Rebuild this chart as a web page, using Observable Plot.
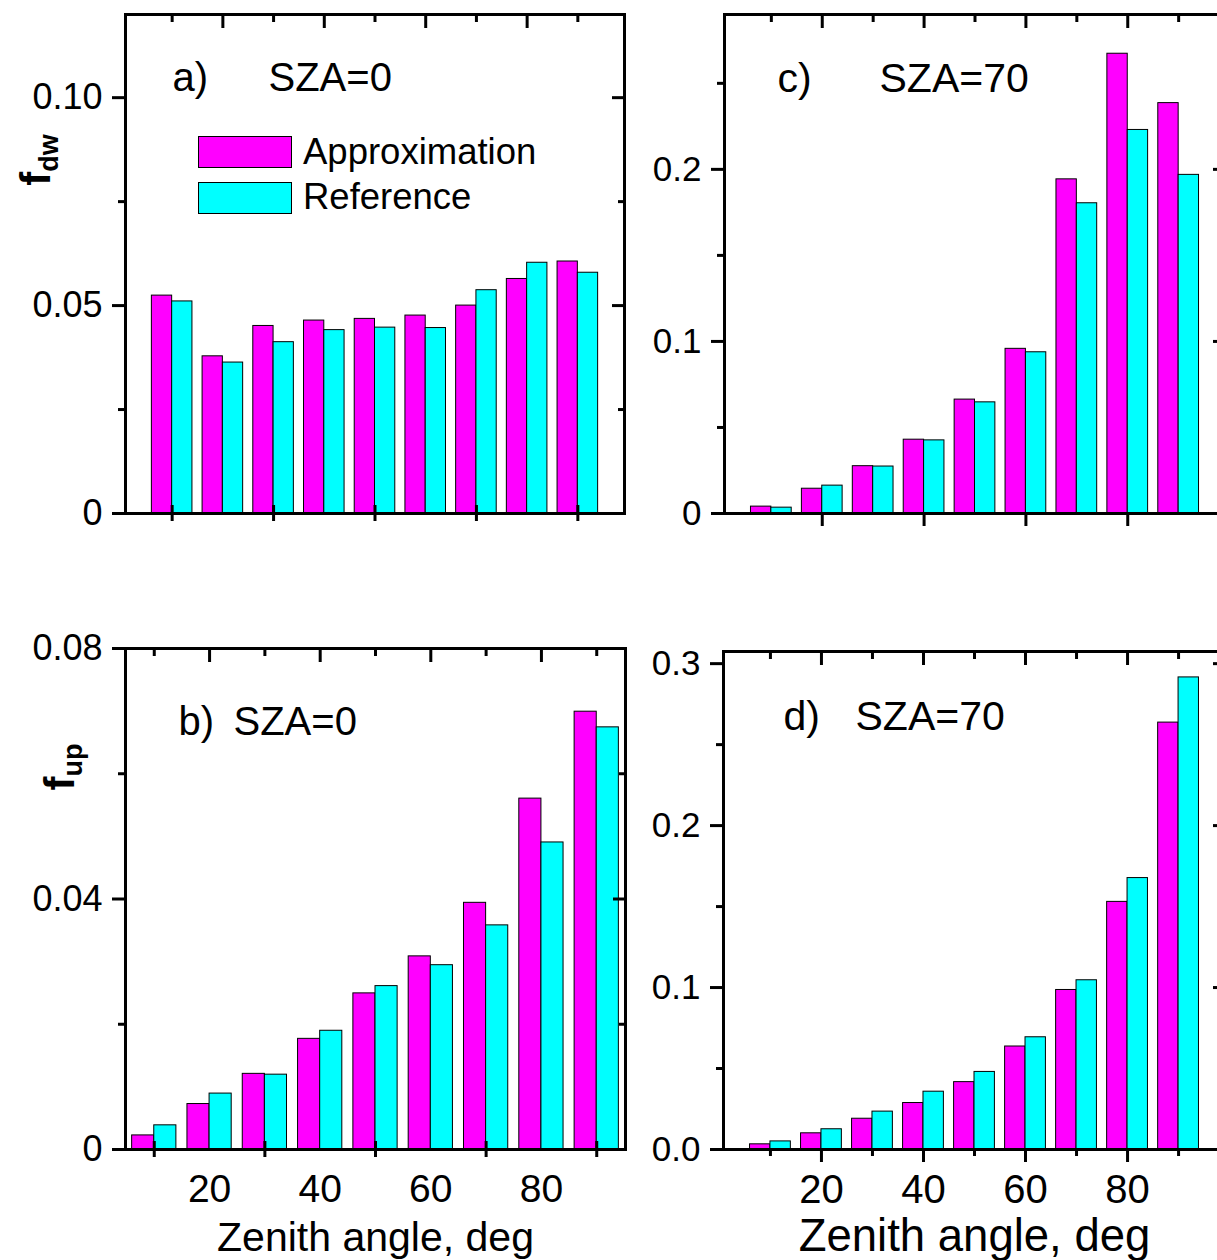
<!DOCTYPE html>
<html><head><meta charset="utf-8">
<script src="https://cdn.jsdelivr.net/npm/d3@7"></script>
<script src="https://cdn.jsdelivr.net/npm/@observablehq/plot@0.6"></script>
<style>
body{margin:0;background:#fff;overflow:hidden}
#fig{position:relative;width:1217px;height:1260px;overflow:hidden;background:#fff;font-family:"Liberation Sans",Arial,sans-serif;color:#000}
.panel{position:absolute}
.panel svg{display:block;max-width:none}
.ylab{position:absolute;transform:translate(-50%,-50%) rotate(-90deg);font-weight:bold;font-size:42px;white-space:nowrap;line-height:1}
.ylab sub{font-size:27px;vertical-align:baseline;position:relative;top:0.3em}
.lgbox{position:absolute;width:92px;height:30px;border:1px solid #000}
.lgtxt{position:absolute;font-size:36.5px;line-height:1;white-space:nowrap}
</style></head>
<body><div id="fig"></div>
<script>
// ---- data ----
const zenith = [10, 20, 30, 40, 50, 60, 70, 80, 90];
const seriesNames = ["Approximation", "Reference"];
const seriesColors = ["#ff00ff", "#00ffff"];

const fdw0Approx  = [0.0524, 0.0378, 0.0451, 0.0464, 0.0468, 0.0476, 0.0500, 0.0564, 0.0606];
const fdw0Ref     = [0.0510, 0.0363, 0.0412, 0.0441, 0.0447, 0.0446, 0.0537, 0.0603, 0.0579];
const fdw70Approx = [0.0040, 0.0144, 0.0275, 0.0429, 0.0662, 0.0957, 0.1942, 0.2672, 0.2385];
const fdw70Ref    = [0.0034, 0.0162, 0.0273, 0.0425, 0.0646, 0.0937, 0.1803, 0.2229, 0.1968];
const fup0Approx  = [0.00225, 0.00726, 0.01208, 0.01767, 0.02493, 0.03084, 0.03939, 0.05603, 0.06991];
const fup0Ref     = [0.00386, 0.00893, 0.01195, 0.01896, 0.02609, 0.02943, 0.03579, 0.04903, 0.06741];
const fup70Approx = [0.0032, 0.0100, 0.0190, 0.0287, 0.0416, 0.0636, 0.0985, 0.1529, 0.2636];
const fup70Ref    = [0.0050, 0.0125, 0.0234, 0.0357, 0.0479, 0.0693, 0.1045, 0.1676, 0.2915];

const xMajor = [20, 40, 60, 80];
const xMinor = [10, 30, 50, 70, 90];
const xLabels = ["20", "40", "60", "80"];
const xTitle = "Zenith angle, deg";

const yTicksA = [0, 0.05, 0.10], yLabelsA = ["0", "0.05", "0.10"], yMinorA = [0.025, 0.075];
const yTicksB = [0, 0.04, 0.08], yLabelsB = ["0", "0.04", "0.08"], yMinorB = [0.02, 0.06];
const yTicksC = [0, 0.1, 0.2], yLabelsC = ["0", "0.1", "0.2"], yMinorC = [0.05, 0.15, 0.25];
const yTicksD = [0, 0.1, 0.2, 0.3], yLabelsD = ["0.0", "0.1", "0.2", "0.3"], yMinorD = [0.05, 0.15, 0.25];

const panelTags = ["a)", "b)", "c)", "d)"];
const panelSza = ["SZA=0", "SZA=0", "SZA=70", "SZA=70"];

// ---- drawing ----
const fig = document.getElementById("fig");
const BW = 4;     // bar width in degrees
const MAJ = 13, MIN = 7, TW = 3;

function panel(cfg) {
  const rows = zenith.map((z, i) => ({z, a: cfg.approx[i], r: cfg.ref[i]}));
  const ylab = new Map(cfg.yTicks.map((t, i) => [t, cfg.yLabels[i]]));
  const xlab = new Map(xMajor.map((t, i) => [t, xLabels[i]]));
  const none = () => "";
  const marks = [
    Plot.rect(rows, {x1: d => d.z - BW, x2: d => d.z, y1: d => 0, y2: "a", fill: seriesColors[0], stroke: "#000", strokeWidth: 1}),
    Plot.rect(rows, {x1: d => d.z, x2: d => d.z + BW, y1: d => 0, y2: "r", fill: seriesColors[1], stroke: "#000", strokeWidth: 1}),
    Plot.frame({stroke: "#000", strokeWidth: 3}),
    // left: outward ticks
    Plot.axisY({anchor: "left", ticks: cfg.yTicks, tickSize: MAJ, tickFormat: none, strokeWidth: TW, label: null}),
    Plot.axisY({anchor: "left", ticks: cfg.yMinor, tickSize: MIN, tickFormat: none, strokeWidth: TW, label: null}),
    Plot.axisY({anchor: "left", ticks: cfg.yTicks, tickSize: 0, tickPadding: 23, tickFormat: d => ylab.get(d), fontSize: cfg.yFont, label: null}),
    // right: inward ticks
    Plot.axisY({anchor: "right", ticks: cfg.yTicks, tickSize: MAJ, dx: -MAJ, tickFormat: none, strokeWidth: TW, label: null}),
    Plot.axisY({anchor: "right", ticks: cfg.yMinor, tickSize: MIN, dx: -MIN, tickFormat: none, strokeWidth: TW, label: null}),
    // top: inward ticks
    Plot.axisX({anchor: "top", ticks: xMajor, tickSize: MAJ, dy: MAJ, tickFormat: none, strokeWidth: TW, label: null}),
    Plot.axisX({anchor: "top", ticks: xMinor, tickSize: MIN, dy: MIN, tickFormat: none, strokeWidth: TW, label: null}),
    // panel tag
    Plot.text([cfg.tag], {frameAnchor: "top-left", text: d => d, dx: cfg.tagDx, dy: cfg.tagDy, textAnchor: "start", lineAnchor: "middle", fontSize: cfg.tagFont}),
    Plot.text([cfg.sza], {frameAnchor: "top-left", text: d => d, dx: cfg.szaDx, dy: cfg.tagDy, textAnchor: "start", lineAnchor: "middle", fontSize: cfg.tagFont})
  ];
  if (cfg.bottom === "cross") {
    marks.push(Plot.axisX({anchor: "bottom", ticks: xMinor, tickSize: 16, dy: -8, tickFormat: none, strokeWidth: TW, label: null}));
  } else if (cfg.bottom === "major") {
    marks.push(Plot.axisX({anchor: "bottom", ticks: xMajor, tickSize: MAJ, tickFormat: none, strokeWidth: TW, label: null}));
  } else {
    marks.push(Plot.axisX({anchor: "bottom", ticks: xMajor, tickSize: MAJ, tickFormat: none, strokeWidth: TW, label: null}));
    marks.push(Plot.axisX({anchor: "bottom", ticks: xMinor, tickSize: MIN, tickFormat: none, strokeWidth: TW, label: null}));
  }
  if (cfg.xLabels) {
    marks.push(Plot.axisX({anchor: "bottom", ticks: xMajor, tickSize: 0, tickPadding: 25, tickFormat: d => xlab.get(d), fontSize: cfg.xFont, label: null}));
    marks.push(Plot.text([xTitle], {frameAnchor: "bottom", text: d => d, dy: cfg.titleDy, lineAnchor: "middle", fontSize: cfg.titleFont}));
  }
  const svg = Plot.plot({
    width: cfg.width, height: cfg.height,
    marginLeft: cfg.ml, marginRight: cfg.mr, marginTop: cfg.mt, marginBottom: cfg.mb,
    x: {type: "linear", domain: cfg.xDomain, axis: null},
    y: {type: "linear", domain: cfg.yDomain, axis: null},
    style: {fontFamily: "'Liberation Sans', Arial, sans-serif", fontSize: "36px", color: "#000", background: "transparent", overflow: "visible"},
    marks
  });
  const div = document.createElement("div");
  div.className = "panel";
  div.style.left = cfg.left + "px";
  div.style.top = cfg.top + "px";
  div.style.width = cfg.width + "px";
  div.appendChild(svg);
  fig.appendChild(div);
}

panel({left: 0, top: 0, width: 660, height: 600, ml: 125, mr: 36, mt: 14, mb: 87,
  xDomain: [0.8, 99.2], yDomain: [0, 0.12], approx: fdw0Approx, ref: fdw0Ref,
  yTicks: yTicksA, yLabels: yLabelsA, yMinor: yMinorA, yFont: 36,
  tag: panelTags[0], sza: panelSza[0], tagDx: 47, szaDx: 143, tagDy: 64, tagFont: 40,
  bottom: "cross", xLabels: false});

panel({left: 660, top: 0, width: 570, height: 600, ml: 64, mr: 5, mt: 14, mb: 87,
  xDomain: [0.8, 99.2], yDomain: [0, 0.29], approx: fdw70Approx, ref: fdw70Ref,
  yTicks: yTicksC, yLabels: yLabelsC, yMinor: yMinorC, yFont: 35,
  tag: panelTags[2], sza: panelSza[2], tagDx: 53, szaDx: 155, tagDy: 64, tagFont: 41,
  bottom: "major", xLabels: false});

panel({left: 0, top: 600, width: 660, height: 660, ml: 125, mr: 35, mt: 48, mb: 111,
  xDomain: [4.8, 95.2], yDomain: [0, 0.08], approx: fup0Approx, ref: fup0Ref,
  yTicks: yTicksB, yLabels: yLabelsB, yMinor: yMinorB, yFont: 36,
  tag: panelTags[1], sza: panelSza[1], tagDx: 53, szaDx: 108, tagDy: 74, tagFont: 40,
  bottom: "cross", xLabels: true, xFont: 39, titleDy: 88, titleFont: 41});

panel({left: 660, top: 600, width: 570, height: 660, ml: 63, mr: 5, mt: 51, mb: 111,
  xDomain: [0.8, 99.2], yDomain: [0, 0.3075], approx: fup70Approx, ref: fup70Ref,
  yTicks: yTicksD, yLabels: yLabelsD, yMinor: yMinorD, yFont: 35,
  tag: panelTags[3], sza: panelSza[3], tagDx: 60, szaDx: 132, tagDy: 65, tagFont: 41,
  bottom: "both", xLabels: true, xFont: 40, titleDy: 87, titleFont: 45.5});

// y-axis titles
function ylabel(main, sub, cx, cy) {
  const el = document.createElement("div");
  el.className = "ylab";
  el.style.left = cx + "px";
  el.style.top = cy + "px";
  el.append(main);
  const s = document.createElement("sub");
  s.textContent = sub;
  el.appendChild(s);
  fig.appendChild(el);
}
ylabel("f", "dw", 36, 160);
ylabel("f", "up", 60, 767);

// legend (panel a)
const legendRows = [{top: 136, text: 152}, {top: 182, text: 197}];
seriesNames.forEach((name, i) => {
  const b = document.createElement("div");
  b.className = "lgbox";
  b.style.left = "198px";
  b.style.top = legendRows[i].top + "px";
  b.style.background = seriesColors[i];
  fig.appendChild(b);
  const t = document.createElement("div");
  t.className = "lgtxt";
  t.style.left = "303px";
  t.style.top = (legendRows[i].text - 18) + "px";
  t.textContent = name;
  fig.appendChild(t);
});
</script>
</body></html>
